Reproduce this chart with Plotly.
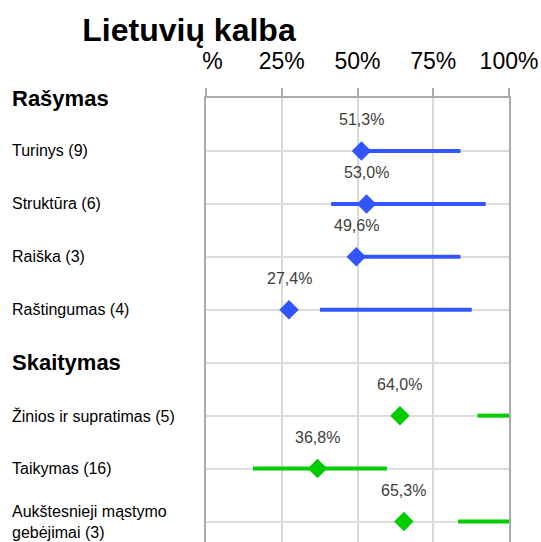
import plotly.graph_objects as go

# ---- data ----
categories = ["Rašymas", "Turinys (9)", "Struktūra (6)", "Raiška (3)", "Raštingumas (4)",
              "Skaitymas", "Žinios ir supratimas (5)", "Taikymas (16)",
              "Aukštesnieji mąstymo<br>gebėjimai (3)"]
header_rows = ["Rašymas", "Skaitymas"]

rasymas_cats = ["Turinys (9)", "Struktūra (6)", "Raiška (3)", "Raštingumas (4)"]
rasymas_values = [51.3, 53.0, 49.6, 27.4]
rasymas_low = [49.0, 41.3, 47.5, 37.6]
rasymas_high = [84.0, 92.3, 84.0, 87.7]

skaitymas_cats = ["Žinios ir supratimas (5)", "Taikymas (16)", "Aukštesnieji mąstymo<br>gebėjimai (3)"]
skaitymas_values = [64.0, 36.8, 65.3]
skaitymas_low = [89.6, 15.5, 83.2]
skaitymas_high = [100.0, 59.7, 100.0]

tick_vals = [0, 25, 50, 75, 100]
tick_text = ["\u2007%", "25%", "50%", "75%", "100%"]

title = "Lietuvių kalba"

BLUE = "#3355FF"
GREEN = "#00CC00"
FONT = "Liberation Sans, Arial, sans-serif"

row_of = {c: i for i, c in enumerate(categories)}

fig = go.Figure()

def add_group(cats, vals, lows, highs, color):
    xs, ys = [], []
    for c, lo, hi in zip(cats, lows, highs):
        xs += [lo, hi, None]
        ys += [row_of[c], row_of[c], None]
    fig.add_trace(go.Scatter(x=xs, y=ys, mode="lines",
                             line=dict(color=color, width=4),
                             hoverinfo="skip", showlegend=False))
    fig.add_trace(go.Scatter(x=vals, y=[row_of[c] for c in cats], mode="markers",
                             marker=dict(symbol="diamond", size=15, color=color,
                                         line=dict(width=0)),
                             showlegend=False))
    for c, v in zip(cats, vals):
        fig.add_annotation(x=v, y=row_of[c], xref="x", yref="y",
                           text=f"{v:.1f}".replace(".", ",") + "%",
                           showarrow=False, yshift=31, xanchor="center", yanchor="middle",
                           font=dict(family=FONT, size=16, color="#404040"))

add_group(rasymas_cats, rasymas_values, rasymas_low, rasymas_high, BLUE)
add_group(skaitymas_cats, skaitymas_values, skaitymas_low, skaitymas_high, GREEN)

L, R, T = 206, 31.5, 97.5
W, H = 541, 542
plot_w = W - L - R
row_px = 53.0
y_bottom = (H - T) / row_px

for c in categories:
    hdr = c in header_rows
    fig.add_annotation(x=(9.7 - L) / plot_w, y=row_of[c], xref="paper", yref="y",
                       text=f"<b>{c}</b>" if hdr else c, showarrow=False,
                       xanchor="left", yanchor="middle", align="left",
                       font=dict(family=FONT, size=22 if hdr else 16, color="#000000"))

fig.update_layout(
    width=W, height=H,
    margin=dict(l=L, r=R, t=T, b=0, pad=0),
    paper_bgcolor="white", plot_bgcolor="white",
    font=dict(family=FONT, color="#000000"),
    title=dict(text=f"<b>{title}</b>", x=189 / W, xref="container", xanchor="center",
               y=1 - 30 / H, yref="container", yanchor="middle",
               font=dict(family=FONT, size=32, color="#000000")),
    xaxis=dict(side="top", range=[0, 100], tickvals=tick_vals, ticktext=tick_text,
               showgrid=True, gridcolor="#D9D9D9", gridwidth=1.5,
               showline=True, linecolor="#ABABAB", linewidth=2,
               ticks="outside", ticklen=8, tickwidth=2, tickcolor="#ABABAB",
               tickfont=dict(family=FONT, size=23, color="#000000"),
               ticklabelstandoff=10, zeroline=False, fixedrange=True),
    yaxis=dict(range=[y_bottom, 0], tickvals=list(range(len(categories))),
               showticklabels=False, showgrid=True, gridcolor="#DCDCDC", gridwidth=1.5,
               showline=True, mirror=True, linecolor="#ABABAB", linewidth=2,
               ticks="", zeroline=False, fixedrange=True),
)

fig.write_html("out.html", config={"displayModeBar": False},
               post_script="document.body.style.margin='0';document.body.style.overflow='hidden';")
